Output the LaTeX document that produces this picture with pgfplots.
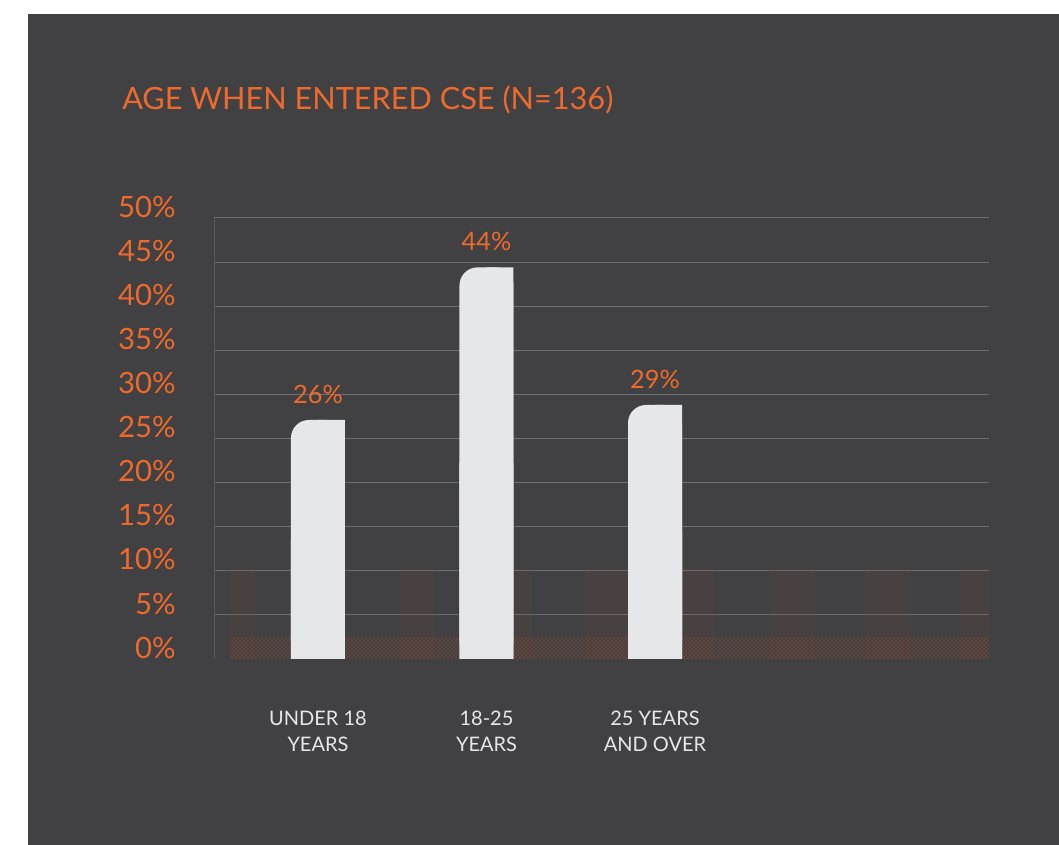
\documentclass[border=0pt]{standalone}
\usepackage{fontspec}
\setmainfont{Lato}
\usepackage{pgfplots}
\pgfplotsset{compat=1.18}
\usepackage{pgfplotstable}
\usetikzlibrary{patterns}
\definecolor{bg}{HTML}{414042}
\definecolor{org}{HTML}{EE6A2C}
\definecolor{barc}{HTML}{E6E7E8}
\definecolor{gridc}{HTML}{6D6E71}
\definecolor{axc}{HTML}{5E5758}
\definecolor{dotc}{HTML}{C4532A}
\definecolor{dotf}{HTML}{7A4632}

\pgfplotstableread{
x v lbl
0 27.1 26
1 44.4 44
2 28.8 29
}\agedata

\begin{document}
\begin{tikzpicture}[x=0.75pt,y=0.75pt]
\fill[white] (0,0) rectangle (1059,845);
\fill[bg] (28,0) rectangle (1059,831);
\node[anchor=base west, inner sep=0pt, text=org, font=\fontsize{23}{27}\selectfont] at (122,735) {AGE WHEN ENTERED CSE (N=136)};
\begin{axis}[
  at={(160.5pt,139.5pt)}, anchor=south west,
  scale only axis, width=581.25pt, height=330.75pt,
  xmin=-0.617, xmax=3.982, ymin=0, ymax=50,
  /pgf/number format/assume math mode=true,
  axis lines*=left,
  x axis line style={draw=none},
  y axis line style={-, draw=axc, line width=0.75pt},
  tick style={draw=none},
  ymajorgrids,
  grid style={draw=gridc, line width=0.75pt},
  ytick={5,10,...,50},
  yticklabels={5\%,10\%,15\%,20\%,25\%,30\%,35\%,40\%,45\%,50\%},
  extra y ticks={0},
  extra y tick labels={0\%},
  extra y tick style={grid=none},
  yticklabel style={text=org, font=\fontsize{22}{26}\selectfont, anchor=east, inner sep=0pt, xshift=-28.5pt, yshift=8.5pt},
  xtick={0,1,2},
  xticklabels={{UNDER 18\\YEARS},{18-25\\YEARS},{25 YEARS\\AND OVER}},
  xticklabel style={align=center, text=barc, font=\fontsize{15}{19.5}\selectfont, anchor=north, inner sep=0pt, yshift=-39pt},
  clip=false,
]
% decorative dotted texture
\addplot[draw=none, pattern=crosshatch dots, pattern color=dotf, forget plot] coordinates {(-0.522,10.2) (-0.374,10.2)} \closedcycle;
\addplot[draw=none, pattern=crosshatch dots, pattern color=dotf, forget plot] coordinates {(0.487,10.2) (0.694,10.2)} \closedcycle;
\addplot[draw=none, pattern=crosshatch dots, pattern color=dotf, forget plot] coordinates {(1.151,10.2) (1.270,10.2)} \closedcycle;
\addplot[draw=none, pattern=crosshatch dots, pattern color=dotf, forget plot] coordinates {(1.585,10.2) (2.356,10.2)} \closedcycle;
\addplot[draw=none, pattern=crosshatch dots, pattern color=dotf, forget plot] coordinates {(2.682,10.2) (2.950,10.2)} \closedcycle;
\addplot[draw=none, pattern=crosshatch dots, pattern color=dotf, forget plot] coordinates {(3.246,10.2) (3.513,10.2)} \closedcycle;
\addplot[draw=none, pattern=crosshatch dots, pattern color=dotf, forget plot] coordinates {(3.810,10.2) (3.982,10.2)} \closedcycle;
\addplot[draw=none, pattern=crosshatch dots, pattern color=dotc, forget plot] coordinates {(-0.522,2.4) (3.982,2.4)} \closedcycle;
% bars: rounded top-left corner only
\addplot[ybar, bar width=40.5pt, bar shift=0pt, fill=barc, draw=none, rounded corners=13.5pt,
  point meta=explicit,
  nodes near coords={\pgfmathprintnumber{\pgfplotspointmeta}\%},
  nodes near coords style={text=org, font=\fontsize{19}{22}\selectfont, anchor=south, inner sep=0pt, yshift=12pt}]
  table[x=x, y=v, meta=lbl] {\agedata};
\addplot[ybar, bar width=20.25pt, bar shift=10.125pt, fill=barc, draw=none, sharp corners]
  table[x=x, y=v] {\agedata};
\addplot[ybar, bar width=40.5pt, bar shift=0pt, fill=barc, draw=none, sharp corners]
  table[x=x, y expr=\thisrow{v}/2] {\agedata};
\end{axis}
\end{tikzpicture}
\end{document}
